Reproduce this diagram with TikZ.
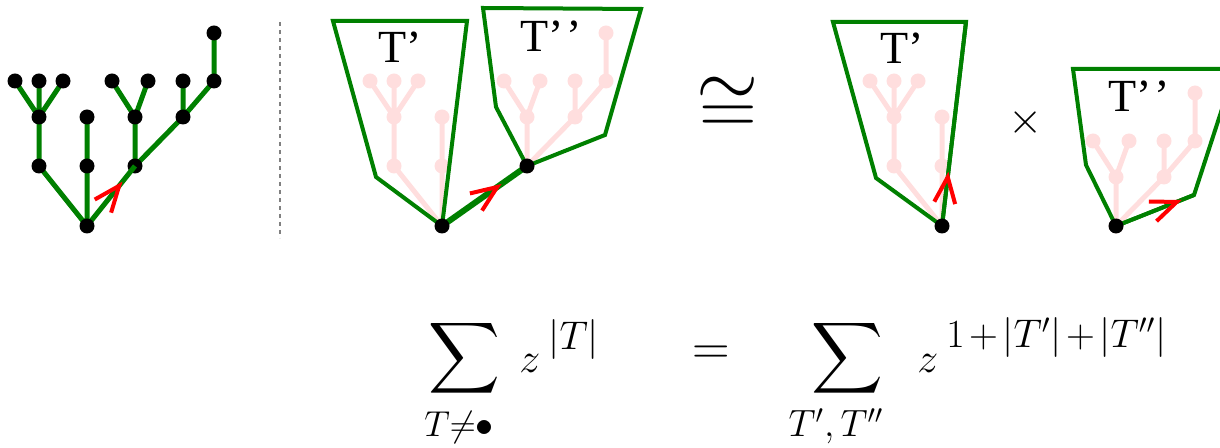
\RequirePackage{fix-cm}
\documentclass[tikz,border=0pt]{standalone}
\usepackage{xcolor}
\usepackage{tikz}
\usepackage{amsmath}
\usepackage{fontspec}
\newfontfamily\labelfont{Liberation Serif}
\usetikzlibrary{decorations.markings}

\definecolor{treegreen}{RGB}{0,128,0}
\definecolor{ghost}{RGB}{255,222,222}

% the tree, measured from its root
\newcommand\treecoords{%
  \coordinate (r)  at (0,0);
  \coordinate (a1) at (-48,-60);  \coordinate (a2) at (0,-60);   \coordinate (a3) at (48,-60);
  \coordinate (b1) at (-48,-109); \coordinate (b2) at (0,-109);  \coordinate (b3) at (48,-109);
  \coordinate (b4) at (96,-109);
  \coordinate (c1) at (-72,-145); \coordinate (c2) at (-48,-145); \coordinate (c3) at (-24,-145);
  \coordinate (c4) at (25,-145);  \coordinate (c5) at (61,-145);  \coordinate (c6) at (96,-145);
  \coordinate (c7) at (127,-145); \coordinate (d7) at (127,-193);}
% T' part and T'' part
\newcommand\firstpart[2]{%
  \draw[#1] (a1) -- (r) -- (a2) -- (b2) (a1) -- (b1) -- (c1) (b1) -- (c2) (b1) -- (c3);
  \foreach \v in {a1,a2,b1,b2,c1,c2,c3} \node[#2] (n\v) at (\v) {};}
\newcommand\secondpart[2]{%
  \draw[#1] (a3) -- (b3) -- (c4) (b3) -- (c5) (a3) -- (b4) -- (c6) (b4) -- (c7) -- (d7);
  \foreach \v in {a3,b3,b4,c4,c5,c6,c7,d7} \node[#2] (n\v) at (\v) {};}
\newcommand\tplus{\mkern2mu{+}\mkern2mu}

\begin{document}
\begin{tikzpicture}[x=0.5pt,y=-0.5pt,
    dot/.style={circle,fill=black,inner sep=0pt,minimum size=7.5pt},
    ghostdot/.style={circle,fill=ghost,inner sep=0pt,minimum size=7.5pt},
    branch/.style={treegreen,line width=2.5pt},
    ghostbranch/.style={ghost,line width=2.5pt},
    hull/.style={treegreen,line width=2pt,line join=miter},
    tlabel/.style={font=\labelfont\fontsize{23}{23}\selectfont,inner sep=0pt},
    flow/.style={postaction={decorate},decoration={markings,
        mark=at position #1 with {\draw[red,line width=2pt] (-13pt,5.25pt) -- (0,0) -- (-13pt,-5.25pt);}}}]
  \useasboundingbox (0,0) rectangle (1220,448);
  \clip (0,0) rectangle (1220,448);

  % whole tree
  \begin{scope}[shift={(87,226)},name prefix=L-]
    \treecoords
    \firstpart{branch}{dot}
    \secondpart{branch}{dot}
    \draw[branch,flow=0.67] (r) -- (a3);
    \node[dot] (nr) at (r) {};
  \end{scope}

  \draw[gray,line width=0.6pt,dash pattern=on 2pt off 2pt] (280,22) -- (280,238);

  % cut at the root: T' and T''
  \begin{scope}[shift={(442,226)},name prefix=M1-]
    \treecoords
    \firstpart{ghostbranch}{ghostdot}
  \end{scope}
  \begin{scope}[shift={(479,226)},name prefix=M2-]
    \treecoords
    \secondpart{ghostbranch}{ghostdot}
  \end{scope}
  \draw[hull] (333,21) -- (467,21) -- (M1-r) -- (376,177) -- cycle;
  \draw[hull] (483,8) -- (641,9) -- (605,135) -- (M2-a3) -- (496,107) -- cycle;
  \draw[branch,line width=3pt,flow=0.65] (M1-r) -- (M2-a3);
  \node[dot] (M1-root) at (M1-r) {};
  \node[dot] (M2-root) at (M2-a3) {};
  \node[tlabel] (M1-lab) at (400,47) {T’};
  \node[tlabel] (M2-lab) at (551,36) {T’\kern1pt’};

  \node[inner sep=0pt] (iso) at (728,106) {\fontsize{40}{40}\selectfont$\cong$};

  % the two factors
  \begin{scope}[shift={(942,226)},name prefix=R1-]
    \treecoords
    \firstpart{ghostbranch}{ghostdot}
  \end{scope}
  \begin{scope}[shift={(1068,286)},name prefix=R2-]
    \treecoords
    \secondpart{ghostbranch}{ghostdot}
  \end{scope}
  \coordinate (R1-top) at (966,22);
  \coordinate (R2-side) at (1194,195);
  \draw[hull] (833,22) -- (R1-top) -- (R1-r) -- (876,178) -- cycle;
  \draw[hull] (1073,69) -- (1235,69) -- (R2-side) -- (R2-a3) -- (1086,165) -- cycle;
  \draw[hull,flow=0.24] (R1-r) -- (R1-top);
  \draw[hull,flow=0.78] (R2-a3) -- (R2-side);
  \node[dot] (R1-root) at (R1-r) {};
  \node[dot] (R2-root) at (R2-a3) {};
  \node[tlabel] (R1-lab) at (902,48) {T’};
  \node[tlabel] (R2-lab) at (1139,96) {T’\kern1pt’};

  \node[inner sep=0pt] (times) at (1026,123) {\fontsize{22}{22}\selectfont$\times$};

  % generating function
  \node[inner sep=0pt] (sumL) at (464,358) {\fontsize{26}{26}\selectfont$\displaystyle\sum$};
  \node[anchor=base west,inner sep=0pt] (zL) at (519,372) {\fontsize{21}{21}\selectfont$z$};
  \node[anchor=base west,inner sep=0pt] (expL) at (548,350) {\fontsize{20}{20}\selectfont$|T|$};
  \node[anchor=base west,inner sep=0pt] (subL) at (424,437) {\fontsize{18}{18}\selectfont$T{\not=}{\bullet}$};
  \node[inner sep=0pt] (eq) at (711,355) {\fontsize{26}{26}\selectfont$=$};
  \node[inner sep=0pt] (sumR) at (847,358) {\fontsize{26}{26}\selectfont$\displaystyle\sum$};
  \node[anchor=base west,inner sep=0pt] (zR) at (917,372) {\fontsize{21}{21}\selectfont$z$};
  \node[anchor=base west,inner sep=0pt] (expR) at (946,348) {\fontsize{20}{20}\selectfont$1\tplus|T'|\tplus|T''|$};
  \node[anchor=base,inner sep=0pt] (subR) at (836,437) {\fontsize{19}{19}\selectfont$T',T''$};
\end{tikzpicture}
\end{document}
